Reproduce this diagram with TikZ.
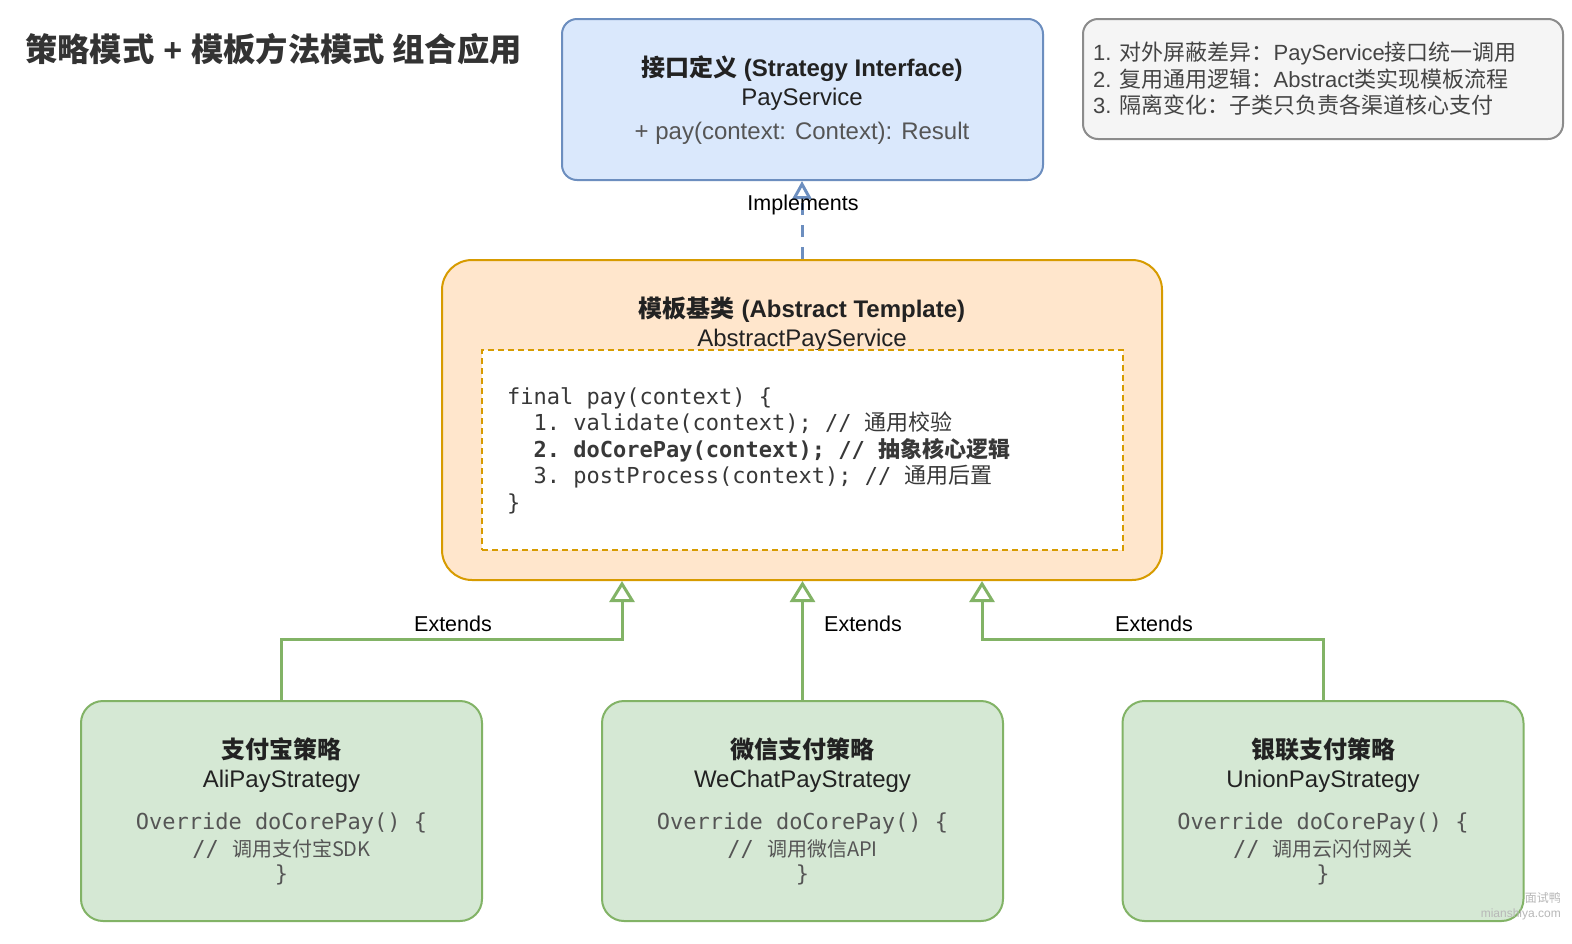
\documentclass[tikz,border=0pt]{standalone}
\usepackage{fontspec}
\setmainfont{Liberation Sans}
\setmonofont{DejaVu Sans Mono}
\newfontfamily\cjk{Noto Sans CJK SC}
\newcommand\zh[1]{{\cjk #1}}
\newcommand\zhs[1]{{\cjk\fontsize{20}{24}\selectfont #1}}
\usetikzlibrary{arrows.meta,calc}
\definecolor{blueFill}{HTML}{DAE8FC}
\definecolor{blueLine}{HTML}{6C8EBF}
\definecolor{orangeFill}{HTML}{FFE6CC}
\definecolor{orangeLine}{HTML}{D79B00}
\definecolor{greenFill}{HTML}{D5E8D4}
\definecolor{greenLine}{HTML}{82B366}
\definecolor{noteFill}{HTML}{F5F5F5}
\definecolor{noteLine}{HTML}{8C8C8C}
\definecolor{txtDark}{HTML}{222222}
\definecolor{txtTitle}{HTML}{333333}
\definecolor{txtGray}{HTML}{555555}
\definecolor{txtCode}{HTML}{383838}
\definecolor{txtNote}{HTML}{444444}
\begin{document}
\begin{tikzpicture}[x=1pt,y=-1pt,
  box/.style={draw, line width=2pt, rounded corners=15pt, inner sep=0pt},
  lbl/.style={anchor=base, inner sep=0pt, text=txtDark, font=\fontsize{24}{28}\selectfont},
  lblb/.style={lbl, font=\bfseries\fontsize{24}{28}\selectfont},
  codel/.style={anchor=base west, inner sep=0pt, text=txtCode, font=\ttfamily\fontsize{22}{26}\selectfont},
  codec/.style={anchor=base, inner sep=0pt, text=txtGray, font=\ttfamily\fontsize{22}{26}\selectfont},
  notel/.style={anchor=base west, inner sep=0pt, text=txtNote, font=\fontsize{22}{26}\selectfont},
  edgel/.style={anchor=base, inner sep=0pt, text=black, font=\fontsize{21.5}{25}\selectfont},
  ext/.style={draw=greenLine, line width=3pt, -{Triangle[length=21pt,width=25pt,fill=white]}},
  impl/.style={draw=blueLine, line width=3pt, dash pattern=on 12pt off 10pt, -{Triangle[length=18pt,width=19pt,fill=white]}},
  greenbox/.style={box, draw=greenLine, fill=greenFill, rounded corners=22pt, minimum width=401pt, minimum height=220pt}
]
\useasboundingbox[fill=white] (0,0) rectangle (1572,943);

% title
\node[anchor=base west, inner sep=0pt, text=txtTitle, font=\bfseries\fontsize{32.3}{37}\selectfont] (title) at (25,61) {\zh{策略模式} + \zh{模板方法模式 组合应用}};

% interface
\node[box, draw=blueLine, fill=blueFill, minimum width=481pt, minimum height=161pt] (iface) at (802.5,99.5) {};
\node[lblb] (ifaceT) at (802,76) {\zh{接口定义} (Strategy Interface)};
\node[lbl] (ifaceN) at (802,105) {PayService};
\node[lbl, text=txtGray] (ifaceM) at (802,139) {+ pay(context: Context): Result};

% note
\node[box, draw=noteLine, fill=noteFill, minimum width=480pt, minimum height=120pt] (note) at (1323,79) {};
\node[notel] (note1) at (1093,60) {1. \zh{对外屏蔽差异：}PayService\zh{接口统一调用}};
\node[notel] (note2) at (1093,87) {2. \zh{复用通用逻辑：}Abstract\zh{类实现模板流程}};
\node[notel] (note3) at (1093,113) {3. \zh{隔离变化：子类只负责各渠道核心支付}};

% template
\node[box, rounded corners=30pt, draw=orangeLine, fill=orangeFill, minimum width=720pt, minimum height=320pt] (tmpl) at (802,420) {};
\node[lblb] (tmplT) at (802,317) {\zh{模板基类} (Abstract Template)};
\node[lbl] (tmplN) at (802,346) {AbstractPayService};
\node[draw=orangeLine, line width=2pt, dash pattern=on 6pt off 4pt, fill=white, inner sep=0pt, minimum width=641pt, minimum height=200pt] (code) at (802.5,450) {};
\node[codel] (c1) at (507,404) {final pay(context) \{};
\node[codel] (c2) at (507,430.6) {\hphantom{00}1. validate(context); // \zh{通用校验}};
\node[codel, font=\ttfamily\bfseries\fontsize{22}{26}\selectfont] (c3) at (507,457.2) {\hphantom{00}2. doCorePay(context); // \zh{抽象核心逻辑}};
\node[codel] (c4) at (507,483.8) {\hphantom{00}3. postProcess(context); // \zh{通用后置}};
\node[codel] (c5) at (507,510.4) {\}};

% implements
\draw[impl] (tmpl.north) -- (tmpl.north |- iface.south);
\node[edgel] (implL) at (803,210) {Implements};

% strategies
\foreach \nm/\cx/\zht/\en/\cm in {ali/281.5/支付宝策略/AliPayStrategy/调用支付宝SDK, wx/802.5/微信支付策略/WeChatPayStrategy/调用微信API, union/1323/银联支付策略/UnionPayStrategy/调用云闪付网关}{
  \node[greenbox] (\nm) at (\cx,811) {};
  \node[lblb] (\nm T) at (\cx,758) {\zh{\zht}};
  \node[lbl] (\nm N) at (\cx,787) {\en};
  \node[codec] (\nm A) at (\cx,829) {Override doCorePay() \{};
  \node[codec] (\nm B) at (\cx,856) {// \zhs{\cm}};
  \node[codec] (\nm C) at (\cx,881) {\}};
}

% extends
\draw[ext] (ali.north) -- ++(0,-61) -| ([xshift=-180pt]tmpl.south);
\draw[ext] (wx.north) -- (wx.north |- tmpl.south);
\draw[ext] (union.north) -- ++(0,-61) -| ([xshift=180pt]tmpl.south);
\node[edgel] (ext1) at (453,631) {Extends};
\node[edgel] (ext2) at (863,631) {Extends};
\node[edgel] (ext3) at (1154,631) {Extends};

% watermark
\node[anchor=base east, inner sep=0pt, text=black!28, font=\fontsize{12}{14}\selectfont] (wm1) at (1561,902) {\zh{面试鸭}};
\node[anchor=base east, inner sep=0pt, text=black!28, font=\fontsize{12}{14}\selectfont] (wm2) at (1561,917) {mianshiya.com};
\end{tikzpicture}
\end{document}
